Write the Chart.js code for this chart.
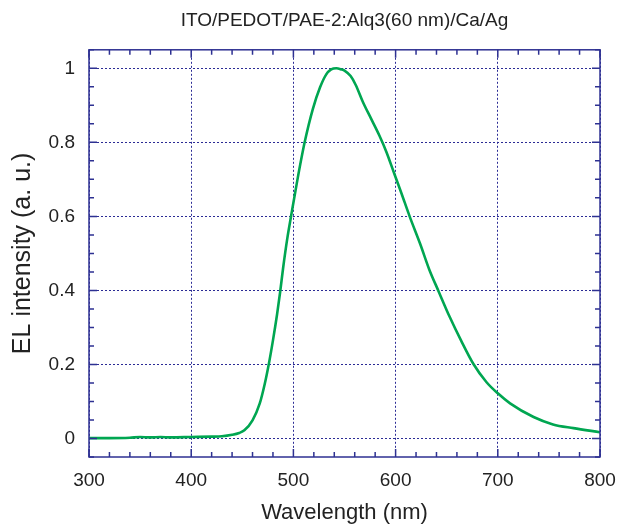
<!DOCTYPE html>
<html>
<head>
<meta charset="utf-8">
<script src="https://cdn.jsdelivr.net/npm/chart.js@4.4.1/dist/chart.umd.min.js"></script>
<style>
  html, body { margin: 0; padding: 0; background: #fff; }
  #wrap { width: 618px; height: 526px; }
</style>
</head>
<body>
<div id="wrap"><canvas id="myChart" width="618" height="526"></canvas></div>
<script>
// EL spectrum
var wavelength = [300, 320, 340, 350, 360, 370, 380, 400, 420, 430, 440, 447, 452, 460, 467, 472, 476, 480, 484, 487, 490, 494, 498, 504, 511, 519, 526, 532, 537, 542, 547, 550, 556, 561, 568, 576, 584, 591, 599, 605, 614, 624, 633, 642, 653, 664, 676, 689, 700, 712, 735, 754, 774, 800];
var intensity  = [0.001, 0.001, 0.002, 0.004, 0.003, 0.004, 0.003, 0.004, 0.005, 0.006, 0.01, 0.015, 0.022, 0.049, 0.094, 0.148, 0.202, 0.265, 0.335, 0.395, 0.462, 0.54, 0.605, 0.7, 0.8, 0.89, 0.948, 0.983, 0.997, 1.0, 0.997, 0.994, 0.979, 0.955, 0.909, 0.864, 0.819, 0.774, 0.713, 0.668, 0.598, 0.526, 0.456, 0.398, 0.328, 0.265, 0.202, 0.152, 0.122, 0.095, 0.058, 0.038, 0.028, 0.017];
var xTicks = [300, 400, 500, 600, 700, 800];
var yTicks = [0, 0.2, 0.4, 0.6, 0.8, 1];

var points = wavelength.map(function (w, i) { return { x: w, y: intensity[i] }; });

var frameColor = '#2e3192';
var gridColor = '#2b2b95';
var textColor = '#222';

// frame + inward ticks (major and minor) on all four sides
var framePlugin = {
  id: 'frame',
  afterDraw: function (chart) {
    var c = chart.ctx, a = chart.chartArea;
    var xs = chart.scales.x, ys = chart.scales.y;
    c.save();
    c.strokeStyle = frameColor;
    c.lineWidth = 1.5;
    c.strokeRect(a.left, a.top, a.right - a.left, a.bottom - a.top);
    c.beginPath();
    for (var v = 300; v <= 800; v += 20) {
      var px = xs.getPixelForValue(v);
      var len = (v % 100 === 0) ? 8 : 5;
      c.moveTo(px, a.bottom); c.lineTo(px, a.bottom - len);
      c.moveTo(px, a.top); c.lineTo(px, a.top + len);
    }
    for (var k = -1; k <= 21; k++) {
      var py = ys.getPixelForValue(k * 0.05);
      var ylen = (k % 4 === 0 && k >= 0) ? 8 : 5;
      c.moveTo(a.left, py); c.lineTo(a.left + ylen, py);
      c.moveTo(a.right, py); c.lineTo(a.right - ylen, py);
    }
    c.stroke();
    c.restore();
  }
};

var ctx = document.getElementById('myChart').getContext('2d');
var myChart = new Chart(ctx, {
  type: 'scatter',
  data: {
    datasets: [{
      label: 'EL',
      data: points,
      showLine: true,
      borderColor: '#00a651',
      borderWidth: 2.6,
      pointRadius: 0,
      cubicInterpolationMode: 'monotone'
    }]
  },
  options: {
    responsive: false,
    animation: false,
    layout: { padding: { left: 0, right: 18, top: 0, bottom: 0 } },
    plugins: {
      legend: { display: false },
      tooltip: { enabled: false },
      title: {
        display: true,
        fullSize: false,
        text: 'ITO/PEDOT/PAE-2:Alq3(60 nm)/Ca/Ag',
        color: textColor,
        font: { family: 'Liberation Sans', size: 19, weight: 'normal' },
        padding: { top: 9, bottom: 18 }
      }
    },
    scales: {
      x: {
        type: 'linear',
        min: 300,
        max: 800,
        afterBuildTicks: function (s) { s.ticks = xTicks.map(function (v) { return { value: v }; }); },
        afterFit: function (s) { s.height = 69; s.paddingLeft = 0; s.paddingRight = 0; },
        ticks: {
          color: textColor,
          padding: 12,
          font: { family: 'Liberation Sans', size: 19 }
        },
        grid: { color: gridColor, lineWidth: 1, drawTicks: false },
        border: { display: false, dash: [2, 2] },
        title: {
          display: true,
          text: 'Wavelength (nm)',
          color: textColor,
          font: { family: 'Liberation Sans', size: 22 },
          padding: { top: 0, bottom: 0 }
        }
      },
      y: {
        type: 'linear',
        min: -0.05,
        max: 1.05,
        afterBuildTicks: function (s) { s.ticks = yTicks.map(function (v) { return { value: v }; }); },
        afterFit: function (s) { s.width = 89; },
        ticks: {
          color: textColor,
          padding: 14,
          font: { family: 'Liberation Sans', size: 19 },
          callback: function (v) { return String(v); }
        },
        grid: { color: gridColor, lineWidth: 1, drawTicks: false },
        border: { display: false, dash: [2, 2] },
        title: {
          display: true,
          text: 'EL intensity (a. u.)',
          color: textColor,
          font: { family: 'Liberation Sans', size: 25 },
          padding: { top: 8, bottom: 0 }
        }
      }
    }
  },
  plugins: [framePlugin]
});
</script>
</body>
</html>
